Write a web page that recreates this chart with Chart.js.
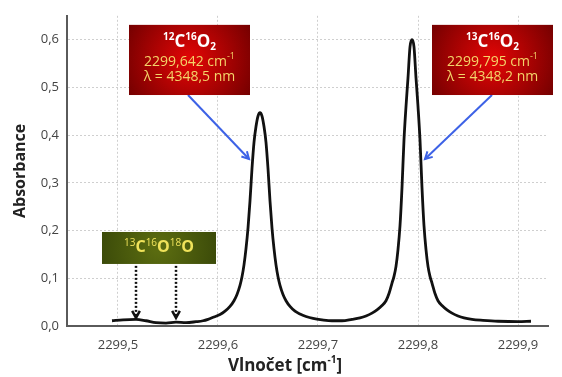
<!DOCTYPE html>
<html>
<head>
<meta charset="utf-8">
<script src="https://cdn.jsdelivr.net/npm/chart.js@4"></script>
<style>
  html, body { margin: 0; padding: 0; background: #fff; }
  #wrap { width: 562px; height: 377px; position: relative; }
</style>
</head>
<body>
<div id="wrap"><canvas id="spektrum"></canvas></div>
<script>
const wavenumbers = [
    2299.494, 2299.505, 2299.518, 2299.528, 2299.538, 2299.548, 2299.558, 2299.568,
    2299.578, 2299.585, 2299.590, 2299.596, 2299.602, 2299.607, 2299.612, 2299.616,
    2299.619, 2299.622, 2299.624, 2299.626, 2299.628, 2299.630, 2299.632, 2299.634,
    2299.636, 2299.638, 2299.640, 2299.642, 2299.644, 2299.646, 2299.648, 2299.650,
    2299.652, 2299.654, 2299.656, 2299.658, 2299.660, 2299.662, 2299.665, 2299.668,
    2299.672, 2299.677, 2299.682, 2299.688, 2299.695, 2299.704, 2299.714, 2299.724,
    2299.734, 2299.742, 2299.748, 2299.754, 2299.759, 2299.764, 2299.768, 2299.771,
    2299.774, 2299.776, 2299.778, 2299.780, 2299.782, 2299.784, 2299.786, 2299.788,
    2299.790, 2299.792, 2299.794, 2299.796, 2299.798, 2299.800, 2299.802, 2299.804,
    2299.806, 2299.808, 2299.810, 2299.812, 2299.814, 2299.817, 2299.820, 2299.824,
    2299.829, 2299.834, 2299.840, 2299.846, 2299.854, 2299.865, 2299.880, 2299.900,
    2299.913
];
const absorbance = [
    0.011, 0.013, 0.014, 0.011, 0.007, 0.006, 0.008, 0.007,
    0.009, 0.011, 0.014, 0.019, 0.024, 0.031, 0.041, 0.053,
    0.066, 0.085, 0.103, 0.128, 0.162, 0.205, 0.262, 0.330,
    0.385, 0.418, 0.440, 0.447, 0.440, 0.418, 0.385, 0.330,
    0.262, 0.205, 0.162, 0.128, 0.103, 0.085, 0.066, 0.053,
    0.041, 0.031, 0.025, 0.020, 0.016, 0.013, 0.011, 0.011,
    0.014, 0.017, 0.021, 0.027, 0.034, 0.043, 0.053, 0.068,
    0.090, 0.104, 0.125, 0.160, 0.210, 0.290, 0.390, 0.460,
    0.520, 0.585, 0.600, 0.585, 0.520, 0.460, 0.390, 0.290,
    0.210, 0.160, 0.125, 0.104, 0.090, 0.068, 0.053, 0.043,
    0.034, 0.027, 0.021, 0.017, 0.014, 0.012, 0.010, 0.009,
    0.010
];

const xTicks = [2299.5, 2299.6, 2299.7, 2299.8, 2299.9];
const xTickLabels = ['2299,5', '2299,6', '2299,7', '2299,8', '2299,9'];
const yTicks = [0, 0.1, 0.2, 0.3, 0.4, 0.5, 0.6];
const yTickLabels = ['0,0', '0,1', '0,2', '0,3', '0,4', '0,5', '0,6'];

// popisky pásů: vlnočet a vlnová délka
const pas12 = ['2299,642 cm', 'λ = 4348,5 nm'];
const pas13 = ['2299,795 cm', 'λ = 4348,2 nm'];
const pas18Sipky = [2299.518, 2299.558];

const FONT = '"Open Sans", "Noto Sans", sans-serif';

function drawRuns(ctx, runs, cx, cy, color) {
    let total = 0;
    runs.forEach(r => {
        ctx.font = (r.bold ? 'bold ' : '') + r.size + 'px ' + FONT;
        r.w = ctx.measureText(r.t).width;
        total += r.w;
    });
    let x = cx - total / 2;
    ctx.fillStyle = color;
    ctx.textAlign = 'left';
    ctx.textBaseline = 'middle';
    runs.forEach(r => {
        ctx.font = (r.bold ? 'bold ' : '') + r.size + 'px ' + FONT;
        ctx.fillText(r.t, x, cy + (r.dy || 0));
        x += r.w;
    });
}

function box(ctx, x1, y1, x2, y2, inner, outer) {
    const g = ctx.createRadialGradient((x1 + x2) / 2, (y1 + y2) / 2, 5,
        (x1 + x2) / 2, (y1 + y2) / 2, (x2 - x1) * 0.6);
    g.addColorStop(0, inner);
    g.addColorStop(1, outer);
    ctx.fillStyle = g;
    ctx.fillRect(x1, y1, x2 - x1, y2 - y1);
}

function arrow(ctx, x1, y1, x2, y2, color, width, dash) {
    ctx.save();
    ctx.strokeStyle = color;
    ctx.lineWidth = width;
    ctx.setLineDash(dash || []);
    ctx.beginPath();
    ctx.moveTo(x1, y1);
    ctx.lineTo(x2, y2);
    ctx.stroke();
    ctx.setLineDash([]);
    const a = Math.atan2(y2 - y1, x2 - x1);
    const h = 8;
    ctx.beginPath();
    ctx.moveTo(x2 - h * Math.cos(a - 0.5), y2 - h * Math.sin(a - 0.5));
    ctx.lineTo(x2, y2);
    ctx.lineTo(x2 - h * Math.cos(a + 0.5), y2 - h * Math.sin(a + 0.5));
    ctx.stroke();
    ctx.restore();
}

function molekula(ctx, hm, cx, cy, sub) {
    drawRuns(ctx, [
        {t: hm, size: 10, bold: true, dy: -5}, {t: 'C', size: 17, bold: true},
        {t: '16', size: 10, bold: true, dy: -5}, {t: 'O', size: 17, bold: true},
        {t: sub, size: 10, bold: true, dy: 5}
    ], cx, cy, '#ffffff');
}

const popisky = {
    id: 'popisky',
    afterDraw(chart) {
        const ctx = chart.ctx;
        const xs = chart.scales.x, ys = chart.scales.y;
        const px = v => xs.getPixelForValue(v);
        const py = v => ys.getPixelForValue(v);
        ctx.save();

        // 12C16O2
        arrow(ctx, px(2299.570), py(0.484), px(2299.631), py(0.35), '#3d62e6', 2);
        box(ctx, px(2299.511), py(0.631), px(2299.632), py(0.484), '#dc0505', '#700000');
        let cx = px(2299.5715);
        molekula(ctx, '12', cx, py(0.595), '2');
        drawRuns(ctx, [{t: pas12[0], size: 14}, {t: '-1', size: 9, dy: -5}], cx, py(0.554), '#f3d56a');
        drawRuns(ctx, [{t: pas12[1], size: 14}], cx, py(0.522), '#f3d56a');

        // 13C16O2
        arrow(ctx, px(2299.874), py(0.484), px(2299.807), py(0.35), '#3d62e6', 2);
        box(ctx, px(2299.814), py(0.631), px(2299.935), py(0.484), '#dc0505', '#700000');
        cx = px(2299.8745);
        molekula(ctx, '13', cx, py(0.595), '2');
        drawRuns(ctx, [{t: pas13[0], size: 14}, {t: '-1', size: 9, dy: -5}], cx, py(0.554), '#f3d56a');
        drawRuns(ctx, [{t: pas13[1], size: 14}], cx, py(0.522), '#f3d56a');

        // 13C16O18O
        pas18Sipky.forEach(v => arrow(ctx, px(v), py(0.126), px(v), py(0.017), '#111', 2.5, [2, 2]));
        box(ctx, px(2299.484), py(0.197), px(2299.598), py(0.130), '#5a6b10', '#364508');
        drawRuns(ctx, [
            {t: '13', size: 10, dy: -5}, {t: 'C', size: 16, bold: true},
            {t: '16', size: 10, dy: -5}, {t: 'O', size: 16, bold: true},
            {t: '18', size: 10, dy: -5}, {t: 'O', size: 16, bold: true}
        ], px(2299.541), py(0.164), '#efe25a');

        // osa x - popisek
        drawRuns(ctx, [
            {t: 'Vlnočet [cm', size: 17, bold: true},
            {t: '-1', size: 10, bold: true, dy: -6},
            {t: ']', size: 17, bold: true}
        ], 285, 366, '#222');
        ctx.restore();
    }
};

new Chart(document.getElementById('spektrum'), {
    type: 'line',
    data: {
        datasets: [{
            data: wavenumbers.map((x, i) => ({x: x, y: absorbance[i]})),
            borderColor: '#111',
            borderWidth: 2.8,
            pointRadius: 0,
            cubicInterpolationMode: 'monotone',
            fill: false
        }]
    },
    options: {
        responsive: true,
        maintainAspectRatio: false,
        animation: false,
        layout: { padding: { top: 13, right: 14, left: 0, bottom: 0 } },
        plugins: { legend: { display: false }, tooltip: { enabled: false } },
        scales: {
            x: {
                type: 'linear',
                min: 2299.449,
                max: 2299.93,
                afterBuildTicks: s => { s.ticks = xTicks.map(v => ({value: v})); },
                afterFit: s => { s.height = 51; },
                border: { color: '#5a5a5a', width: 2, dash: [2, 2] },
                grid: { color: '#cfcfcf', lineWidth: 1, drawTicks: false },
                ticks: {
                    padding: 11,
                    color: '#444',
                    font: { family: FONT, size: 13 },
                    maxRotation: 0,
                    callback: v => xTickLabels[xTicks.indexOf(v)]
                }
            },
            y: {
                min: 0,
                max: 0.65,
                afterBuildTicks: s => { s.ticks = yTicks.map(v => ({value: v})); },
                afterFit: s => { s.width = 67; },
                border: { color: '#5a5a5a', width: 2, dash: [2, 2] },
                grid: { color: '#cfcfcf', lineWidth: 1, drawTicks: false },
                ticks: {
                    padding: 8,
                    color: '#444',
                    font: { family: FONT, size: 13 },
                    callback: v => yTickLabels[yTicks.indexOf(v)]
                },
                title: {
                    display: true,
                    text: 'Absorbance',
                    color: '#222',
                    font: { family: FONT, size: 16, weight: 'bold' },
                    padding: { top: 11, bottom: 0 }
                }
            }
        }
    },
    plugins: [popisky]
});
</script>
</body>
</html>
